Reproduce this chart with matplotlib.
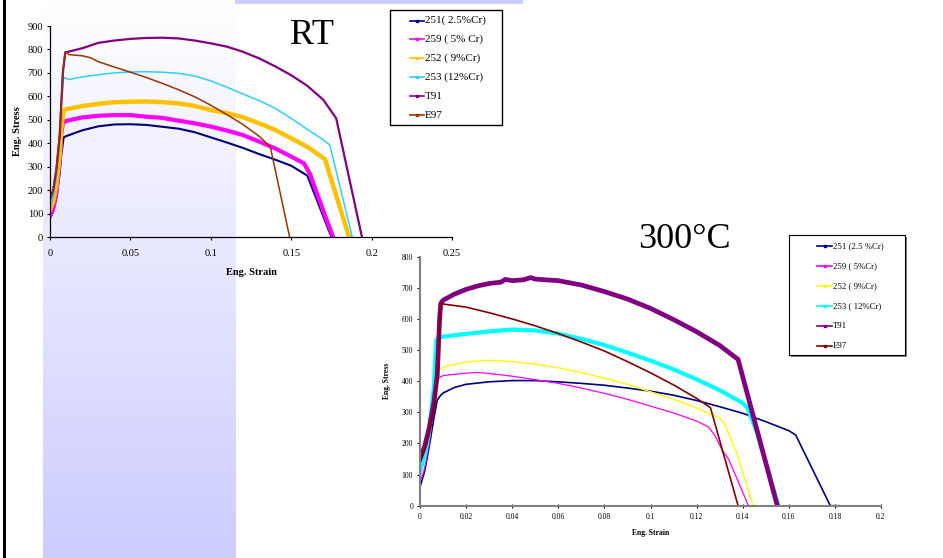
import numpy as np
import matplotlib
matplotlib.use("Agg")
import matplotlib.pyplot as plt
from matplotlib.lines import Line2D
from matplotlib.patches import Rectangle
from matplotlib.ticker import FuncFormatter

# ---------------- data: room temperature ----------------
rt_labels = ["251( 2.5%Cr)", "259 ( 5% Cr)", "252 ( 9%Cr)", "253 (12%Cr)", "T91", "E97"]
rt_colors = ["#000080", "#ff00ff", "#ffc000", "#33ccff", "#800080", "#993300"]

rt_251_x = [0, 0.002, 0.004, 0.006, 0.007, 0.0085, 0.01, 0.02, 0.03, 0.04, 0.05, 0.06, 0.07, 0.08, 0.09, 0.1, 0.11, 0.12, 0.13, 0.14, 0.15, 0.16, 0.175]
rt_251_y = [80, 110, 170, 270, 350, 425, 430, 455, 472, 480, 481, 478, 470, 462, 447, 425, 403, 380, 354, 330, 304, 262, 0]

rt_259_x = [0, 0.002, 0.004, 0.006, 0.007, 0.008, 0.01, 0.02, 0.03, 0.04, 0.05, 0.06, 0.07, 0.08, 0.09, 0.1, 0.11, 0.12, 0.13, 0.14, 0.15, 0.158, 0.162, 0.165, 0.176]
rt_259_y = [90, 120, 190, 330, 440, 485, 495, 510, 517, 520, 520, 513, 508, 496, 485, 471, 454, 435, 407, 378, 343, 314, 265, 205, 0]

rt_252_x = [0, 0.002, 0.004, 0.006, 0.007, 0.0085, 0.01, 0.02, 0.03, 0.04, 0.05, 0.06, 0.07, 0.08, 0.09, 0.1, 0.11, 0.12, 0.13, 0.14, 0.15, 0.16, 0.171, 0.186]
rt_252_y = [115, 150, 220, 350, 460, 540, 545, 558, 568, 575, 577, 578, 575, 570, 559, 542, 528, 511, 485, 457, 421, 385, 332, 0]

rt_253_x = [0, 0.002, 0.004, 0.006, 0.007, 0.0085, 0.012, 0.02, 0.03, 0.04, 0.05, 0.06, 0.07, 0.08, 0.09, 0.1, 0.11, 0.12, 0.13, 0.14, 0.15, 0.16, 0.17, 0.174, 0.188]
rt_253_y = [130, 170, 260, 420, 560, 680, 672, 683, 692, 700, 704, 705, 703, 698, 687, 666, 639, 610, 582, 549, 506, 459, 414, 393, 0]

rt_t91_x = [0, 0.002, 0.004, 0.006, 0.008, 0.0095, 0.02, 0.03, 0.04, 0.05, 0.06, 0.07, 0.08, 0.09, 0.1, 0.11, 0.12, 0.13, 0.14, 0.15, 0.16, 0.17, 0.178, 0.194]
rt_t91_y = [160, 200, 290, 430, 700, 787, 805, 828, 838, 845, 849, 850, 847, 838, 826, 812, 790, 762, 728, 690, 645, 585, 506, 0]

rt_e97_x = [0, 0.002, 0.004, 0.006, 0.008, 0.0095, 0.012, 0.02, 0.025, 0.03, 0.04, 0.05, 0.06, 0.07, 0.08, 0.09, 0.1, 0.11, 0.12, 0.13, 0.137, 0.149]
rt_e97_y = [160, 205, 295, 440, 710, 790, 778, 773, 765, 748, 725, 703, 680, 655, 628, 598, 562, 522, 480, 430, 385, 0]

# ---------------- data: 300 C ----------------
ht_labels = ["251 (2.5 %Cr)", "259 ( 5%Cr)", "252 ( 9%Cr)", "253 ( 12%Cr)", "T91", "E97"]
ht_colors = ["#000080", "#ff00ff", "#ffff00", "#00ffff", "#800080", "#800000"]

ht_251_x = [0, 0.002, 0.004, 0.006, 0.0075, 0.009, 0.01, 0.015, 0.02, 0.03, 0.04, 0.05, 0.06, 0.07, 0.08, 0.09, 0.1, 0.11, 0.12, 0.13, 0.14, 0.15, 0.16, 0.163, 0.178, 0.182]
ht_251_y = [60, 110, 190, 280, 340, 355, 362, 380, 390, 398, 402, 402, 398, 393, 387, 378, 368, 355, 338, 318, 297, 270, 241, 227, 0, 0]

ht_259_x = [0, 0.002, 0.004, 0.006, 0.007, 0.008, 0.01, 0.02, 0.025, 0.03, 0.04, 0.05, 0.06, 0.07, 0.08, 0.09, 0.1, 0.11, 0.12, 0.125, 0.128, 0.131, 0.134, 0.1425, 0.145]
ht_259_y = [75, 120, 200, 330, 400, 410, 418, 426, 428, 425, 416, 405, 393, 378, 361, 342, 320, 298, 272, 254, 225, 180, 148, 0, 0]

ht_252_x = [0, 0.002, 0.004, 0.006, 0.007, 0.008, 0.01, 0.02, 0.03, 0.04, 0.05, 0.06, 0.07, 0.08, 0.09, 0.1, 0.11, 0.12, 0.13, 0.132, 0.1375, 0.1445, 0.1465]
ht_252_y = [95, 140, 220, 330, 410, 435, 445, 462, 467, 463, 455, 443, 428, 410, 390, 366, 342, 314, 282, 265, 168, 0, 0]

ht_253_x = [0, 0.002, 0.004, 0.006, 0.007, 0.008, 0.01, 0.02, 0.03, 0.04, 0.05, 0.06, 0.07, 0.08, 0.09, 0.1, 0.11, 0.12, 0.13, 0.14, 0.142, 0.146, 0.1555]
ht_253_y = [110, 160, 240, 380, 530, 540, 543, 552, 560, 566, 563, 553, 536, 516, 492, 466, 438, 406, 371, 330, 315, 240, 0]

ht_t91_x = [0, 0.002, 0.004, 0.006, 0.0075, 0.0085, 0.009, 0.01, 0.015, 0.02, 0.025, 0.03, 0.035, 0.037, 0.04, 0.045, 0.048, 0.05, 0.06, 0.07, 0.08, 0.09, 0.1, 0.11, 0.12, 0.13, 0.138, 0.155]
ht_t91_y = [150, 190, 250, 330, 420, 600, 650, 660, 680, 695, 706, 714, 718, 727, 723, 726, 733, 728, 723, 709, 688, 664, 634, 598, 559, 515, 470, 0]

ht_e97_x = [0, 0.002, 0.004, 0.006, 0.0075, 0.0085, 0.009, 0.01, 0.02, 0.03, 0.04, 0.05, 0.06, 0.07, 0.08, 0.09, 0.1, 0.11, 0.12, 0.126, 0.138]
ht_e97_y = [140, 180, 240, 310, 400, 580, 650, 648, 638, 620, 600, 578, 553, 526, 497, 463, 427, 388, 345, 315, 0]

rt_series = [(rt_251_x, rt_251_y), (rt_259_x, rt_259_y), (rt_252_x, rt_252_y),
             (rt_253_x, rt_253_y), (rt_t91_x, rt_t91_y), (rt_e97_x, rt_e97_y)]
ht_series = [(ht_251_x, ht_251_y), (ht_259_x, ht_259_y), (ht_252_x, ht_252_y),
             (ht_253_x, ht_253_y), (ht_t91_x, ht_t91_y), (ht_e97_x, ht_e97_y)]

rt_xticks = [0, 0.05, 0.1, 0.15, 0.2, 0.25]
rt_yticks = [0, 100, 200, 300, 400, 500, 600, 700, 800, 900]
ht_xticks = [0, 0.02, 0.04, 0.06, 0.08, 0.1, 0.12, 0.14, 0.16, 0.18, 0.2]
ht_yticks = [0, 100, 200, 300, 400, 500, 600, 700, 800]

# ---------------- figure ----------------
W, H = 943, 558
fig = plt.figure(figsize=(W / 100, H / 100), dpi=100)
fig.patch.set_facecolor("white")
SERIF = ["Liberation Serif", "DejaVu Serif"]


def fx(px):
    return px / W


def fy(py):
    return 1 - py / H


# background decorations (slide)
bg = fig.add_axes([fx(43), 0, fx(236) - fx(43), 1], zorder=0)
grad = np.linspace(0, 1, 256).reshape(-1, 1)
top = np.array([1.0, 1.0, 1.0])
bot = np.array([204, 204, 255]) / 255
img = (top + (bot - top) * grad[..., None]).reshape(256, 1, 3)
bg.imshow(img, aspect="auto", extent=[0, 1, 1, 0])
bg.set_axis_off()

fig.add_artist(Rectangle((fx(3.3), 0), fx(2.5), 1, transform=fig.transFigure,
                         facecolor="black", edgecolor="none", zorder=1))
fig.add_artist(Rectangle((fx(235), fy(4)), fx(523) - fx(235), 4 / H, transform=fig.transFigure,
                         facecolor="#ccccff", edgecolor="none", zorder=1))

# ---------------- RT axes ----------------
ax1 = fig.add_axes([fx(50), fy(237), fx(452) - fx(50), (237 - 26) / H], zorder=2)
ax1.patch.set_alpha(0)
rt_lw = [1.5, 3.0, 3.2, 1.1, 1.6, 1.1]
for (x, y), c, lw, lab in zip(rt_series, rt_colors, rt_lw, rt_labels):
    ax1.plot(x, y, color=c, lw=lw, label=lab, solid_joinstyle="round", solid_capstyle="round")
ax1.set_xlim(0, 0.25)
ax1.set_ylim(0, 900)
ax1.set_xticks(rt_xticks)
ax1.set_yticks(rt_yticks)
ax1.xaxis.set_major_formatter(FuncFormatter(lambda v, p: "%g" % v))
for s in ["top", "right"]:
    ax1.spines[s].set_visible(False)
for s in ["left", "bottom"]:
    ax1.spines[s].set_color("black")
    ax1.spines[s].set_linewidth(0.9)
ax1.tick_params(axis="both", direction="out", length=2.5, width=0.8, colors="black")
ax1.tick_params(axis="x", pad=6)
ax1.tick_params(axis="y", pad=2.5)
for t in ax1.get_xticklabels() + ax1.get_yticklabels():
    t.set_fontfamily(SERIF)
    t.set_fontsize(7.5)
ax1.set_xlabel("Eng. Strain", family=SERIF, fontsize=7.5, fontweight="bold", labelpad=7)
ax1.set_ylabel("Eng. Stress", family=SERIF, fontsize=7.5, fontweight="bold", labelpad=4)
fig.text(fx(312), fy(36), "RT", family=SERIF, fontsize=26, ha="center", va="center", zorder=3)

# ---------------- 300C axes ----------------
ax2 = fig.add_axes([fx(420), fy(505.7), fx(881) - fx(420), (505.7 - 256.7) / H], zorder=2)
ax2.patch.set_alpha(0)
ht_lw = [1.2, 0.9, 1.0, 3.0, 3.4, 1.2]
for (x, y), c, lw, lab in zip(ht_series, ht_colors, ht_lw, ht_labels):
    ax2.plot(x, y, color=c, lw=lw, label=lab, solid_joinstyle="round")
ax2.set_xlim(0, 0.2)
ax2.set_ylim(0, 800)
ax2.set_xticks(ht_xticks)
ax2.set_yticks(ht_yticks)
ax2.xaxis.set_major_formatter(FuncFormatter(lambda v, p: "%g" % round(v, 3)))
for s in ["top", "right"]:
    ax2.spines[s].set_visible(False)
for s in ["left", "bottom"]:
    ax2.spines[s].set_color("#808080")
    ax2.spines[s].set_linewidth(1.5)
ax2.tick_params(axis="both", direction="inout", length=3.5, width=0.8, colors="black")
ax2.tick_params(axis="x", pad=3.5)
ax2.tick_params(axis="y", pad=2.5, direction="out", length=2.5)
for t in ax2.get_xticklabels() + ax2.get_yticklabels():
    t.set_fontfamily(SERIF)
    t.set_fontsize(5.5)
ax2.set_xlabel("Eng. Strain", family=SERIF, fontsize=5.5, fontweight="bold", labelpad=6)
ax2.set_ylabel("Eng. Stress", family=SERIF, fontsize=5.5, fontweight="bold", labelpad=8)
fig.text(fx(684), fy(239), "300\u00b0C", family=SERIF, fontsize=26, ha="center", va="center", zorder=3)


# ---------------- legends ----------------
def draw_legend(labels, colors, box, row_y, hx0, hx1, tx, fs, frame_lw, shadow):
    x0, y0, x1, y1 = box
    if shadow:
        fig.add_artist(Rectangle((fx(x0 + 2), fy(y1 + 2)), fx(x1 - x0), (y1 - y0) / H,
                                 transform=fig.transFigure, facecolor="#808080",
                                 edgecolor="none", zorder=3))
    fig.add_artist(Rectangle((fx(x0), fy(y1)), fx(x1 - x0), (y1 - y0) / H,
                             transform=fig.transFigure, facecolor="white",
                             edgecolor="black", lw=frame_lw, zorder=4))
    for i, (lab, c) in enumerate(zip(labels, colors)):
        yy = row_y[0] + i * (row_y[1] - row_y[0]) / (len(labels) - 1)
        fig.add_artist(Line2D([fx(hx0), fx(hx1)], [fy(yy), fy(yy)], transform=fig.transFigure,
                              color=c, lw=1.2, zorder=5))
        fig.add_artist(Line2D([fx((hx0 + hx1) / 2)], [fy(yy)], transform=fig.transFigure,
                              color=c, marker="s", ms=1.8, lw=0, zorder=5))
        fig.text(fx(tx), fy(yy), lab, family=SERIF, fontsize=fs, ha="left", va="center", zorder=6)


draw_legend(rt_labels, rt_colors, (390, 10, 502, 125), (20.6, 115), 410, 424, 425, 8, 1.0, False)
draw_legend(ht_labels, ht_colors, (789, 235, 905, 355), (246, 346), 817, 832, 833, 6.3, 0.8, True)

fig.savefig("out.png", dpi=100)
